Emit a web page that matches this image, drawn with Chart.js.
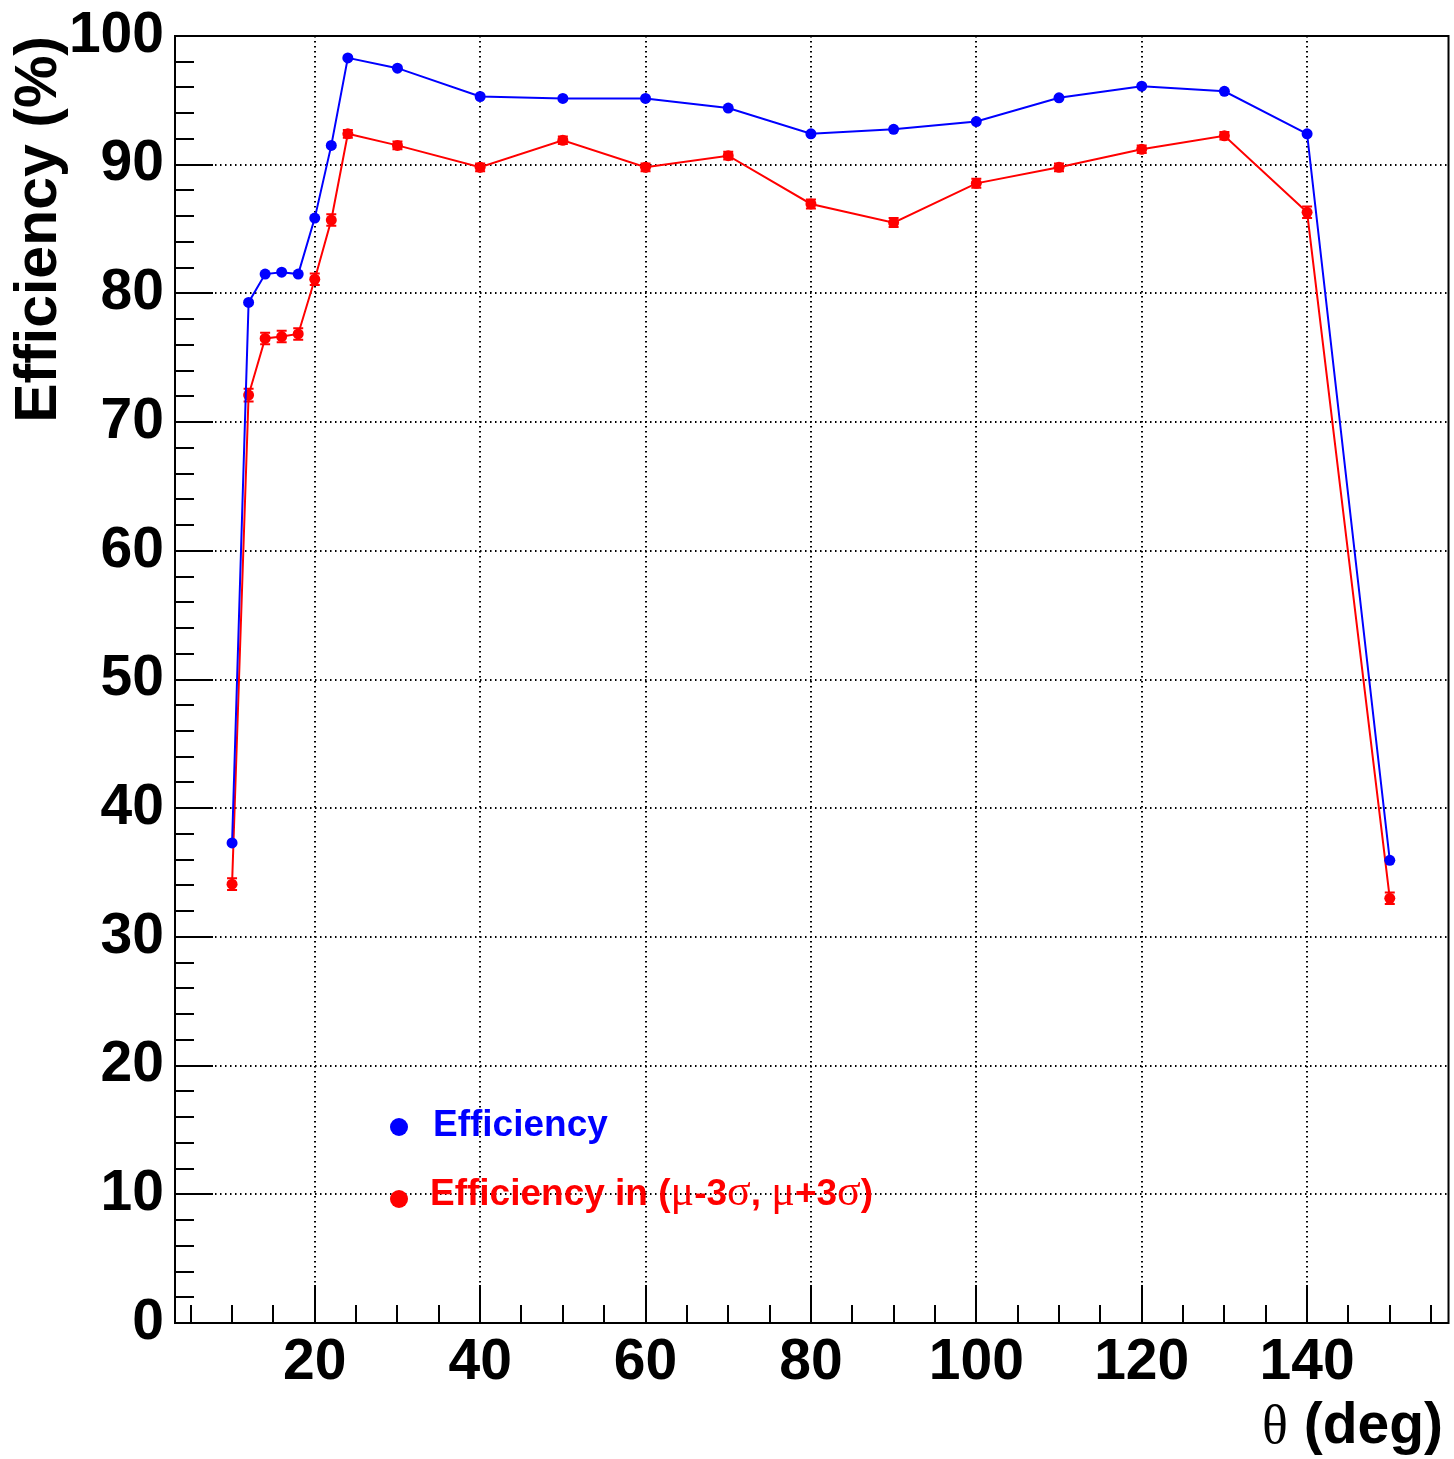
<!DOCTYPE html>
<html><head><meta charset="utf-8">
<script src="https://cdn.jsdelivr.net/npm/chart.js@4.4.0/dist/chart.umd.min.js"></script>
<style>html,body{margin:0;padding:0;background:#fff}canvas{display:block}</style>
</head><body>
<canvas id="c" width="1454" height="1459"></canvas>
<script>
// ---- data ----
const theta = [10, 12, 14, 16, 18, 20, 22, 24, 30, 40, 50, 60, 70, 80, 90, 100, 110, 120, 130, 140, 150];
const efficiency = [37.3, 79.3, 81.5, 81.65, 81.5, 85.85, 91.5, 98.3, 97.5, 95.3, 95.15, 95.15, 94.4, 92.4, 92.75, 93.35, 95.2, 96.1, 95.7, 92.4, 35.95];
const efficiencyErr = [0.3, 0.3, 0.25, 0.25, 0.25, 0.25, 0.2, 0.15, 0.15, 0.15, 0.15, 0.15, 0.15, 0.2, 0.2, 0.2, 0.15, 0.15, 0.15, 0.2, 0.3];
const efficiencyWindow = [34.1, 72.1, 76.5, 76.65, 76.85, 81.1, 85.7, 92.4, 91.5, 89.8, 91.9, 89.8, 90.7, 86.95, 85.5, 88.55, 89.8, 91.2, 92.25, 86.3, 33.0];
const efficiencyWindowErr = [0.45, 0.5, 0.45, 0.45, 0.45, 0.45, 0.45, 0.3, 0.3, 0.3, 0.3, 0.3, 0.3, 0.35, 0.35, 0.35, 0.3, 0.3, 0.3, 0.45, 0.45];
const seriesLabels = ['Efficiency', 'Efficiency in (\u03bc-3\u03c3, \u03bc+3\u03c3)'];
const seriesColors = ['#0000ff', '#ff0000'];
const xMajorTicks = [20, 40, 60, 80, 100, 120, 140];
const xMinorTicks = [5, 10, 15, 25, 30, 35, 45, 50, 55, 65, 70, 75, 85, 90, 95, 105, 110, 115, 125, 130, 135, 145, 150, 155];
const yMajorTicks = [0, 10, 20, 30, 40, 50, 60, 70, 80, 90, 100];
const xTitle = '\u03b8 (deg)';
const yTitle = 'Efficiency (%)';

const SANS = '"Liberation Sans", Arial, Helvetica, sans-serif';
const SERIF = '"Liberation Serif", "Times New Roman", serif';

function toPoints(xs, ys) { return xs.map((x, i) => ({x: x, y: ys[i]})); }

function drawMixed(ctx, text, x, y, size, color, align, greekScale) {
  const parts = [];
  for (const ch of text) {
    const greek = /[\u0370-\u03ff]/.test(ch);
    parts.push({ch: ch, font: greek ? ('normal ' + Math.round(size * greekScale) + 'px ' + SERIF) : ('bold ' + size + 'px ' + SANS)});
  }
  let total = 0;
  parts.forEach(p => { ctx.font = p.font; p.w = ctx.measureText(p.ch).width; total += p.w; });
  let cx = align === 'right' ? x - total : x;
  ctx.fillStyle = color;
  ctx.textBaseline = 'alphabetic';
  ctx.textAlign = 'left';
  parts.forEach(p => { ctx.font = p.font; ctx.fillText(p.ch, cx, y); cx += p.w; });
}

const errors = [efficiencyErr, efficiencyWindowErr];
const capWidth = [0, 5];

const rootPlugin = {
  id: 'rootStyle',
  beforeDraw(chart) {
    const ctx = chart.ctx;
    ctx.save();
    ctx.fillStyle = '#fff';
    ctx.fillRect(0, 0, chart.width, chart.height);
    ctx.restore();
  },
  beforeDatasetsDraw(chart) {
    const ctx = chart.ctx;
    const xs = chart.scales.x, ys = chart.scales.y;
    ctx.save();
    chart.data.datasets.forEach((ds, di) => {
      ctx.strokeStyle = seriesColors[di];
      ctx.lineWidth = 2;
      const cw = capWidth[di];
      ds.data.forEach((p, i) => {
        const e = errors[di][i];
        const px = xs.getPixelForValue(p.x);
        const y1 = ys.getPixelForValue(p.y - e), y2 = ys.getPixelForValue(p.y + e);
        ctx.beginPath();
        ctx.moveTo(px, y1); ctx.lineTo(px, y2);
        if (cw > 0) {
          ctx.moveTo(px - cw, y1); ctx.lineTo(px + cw, y1);
          ctx.moveTo(px - cw, y2); ctx.lineTo(px + cw, y2);
        }
        ctx.stroke();
      });
    });
    ctx.restore();
  },
  afterDraw(chart) {
    const ctx = chart.ctx;
    const a = chart.chartArea;
    const xs = chart.scales.x, ys = chart.scales.y;
    ctx.save();
    // ticks inside the frame
    ctx.strokeStyle = '#000';
    ctx.lineWidth = 2;
    ctx.beginPath();
    yMajorTicks.forEach(v => { const py = Math.round(ys.getPixelForValue(v)); ctx.moveTo(a.left, py); ctx.lineTo(a.left + 38, py); });
    for (let v = 0; v <= 100; v += 2) {
      if (v % 10 === 0) continue;
      const py = Math.round(ys.getPixelForValue(v));
      ctx.moveTo(a.left, py); ctx.lineTo(a.left + 19, py);
    }
    xMajorTicks.forEach(v => { const px = Math.round(xs.getPixelForValue(v)); ctx.moveTo(px, a.bottom); ctx.lineTo(px, a.bottom - 38); });
    xMinorTicks.forEach(v => { const px = Math.round(xs.getPixelForValue(v)); ctx.moveTo(px, a.bottom); ctx.lineTo(px, a.bottom - 18); });
    ctx.stroke();
    // frame
    ctx.lineWidth = 2;
    ctx.strokeRect(a.left, a.top, a.right - a.left, a.bottom - a.top);
    // x title
    drawMixed(ctx, xTitle, 1443, 1443, 57, '#000', 'right', 0.95);
    // legend
    const lx = a.left + (399 - 175);
    const ly = [1127, 1199];
    const tx = [433, 430];
    const tb = [1136, 1205];
    seriesLabels.forEach((lab, i) => {
      ctx.fillStyle = seriesColors[i];
      ctx.beginPath();
      ctx.arc(lx, ly[i], 9, 0, Math.PI * 2);
      ctx.fill();
      drawMixed(ctx, lab, tx[i], tb[i], 37, seriesColors[i], 'left', 1.2);
    });
    ctx.restore();
  }
};

const gridCommon = {
  display: true,
  drawTicks: false,
  color: '#000',
  lineWidth: 2,
};

new Chart(document.getElementById('c'), {
  type: 'line',
  data: {
    datasets: seriesLabels.map((lab, i) => ({
      label: lab,
      data: toPoints(theta, i === 0 ? efficiency : efficiencyWindow),
      borderColor: seriesColors[i],
      backgroundColor: seriesColors[i],
      borderWidth: 2,
      pointRadius: 5.5,
      pointBorderWidth: 0,
      pointHoverRadius: 5.5,
      tension: 0,
      fill: false,
    }))
  },
  options: {
    responsive: false,
    animation: false,
    devicePixelRatio: 1,
    layout: {padding: {left: 0, top: 36, right: 4, bottom: 0}},
    plugins: {legend: {display: false}, tooltip: {enabled: false}},
    scales: {
      x: {
        type: 'linear',
        min: 3.1, max: 157.1,
        afterBuildTicks(scale) { scale.ticks = xMajorTicks.map(v => ({value: v})); },
        afterFit(scale) { scale.height = 136; scale.paddingLeft = 0; scale.paddingRight = 0; },
        grid: Object.assign({}, gridCommon),
        border: {display: false, dash: [1.5, 3.5]},
        ticks: {
          autoSkip: false, maxRotation: 0, padding: 6, color: '#000',
          font: {family: SANS, weight: 'bold', size: 57},
        },
      },
      y: {
        type: 'linear',
        min: 0, max: 100,
        afterBuildTicks(scale) { scale.ticks = yMajorTicks.map(v => ({value: v})); },
        afterFit(scale) { scale.width = 175; scale.paddingTop = 0; scale.paddingBottom = 0; },
        grid: Object.assign({}, gridCommon),
        border: {display: false, dash: [1.5, 3.5]},
        ticks: {
          padding: 11, color: '#000',
          font: {family: SANS, weight: 'bold', size: 57},
        },
        title: {
          display: true, text: yTitle, align: 'end', color: '#000',
          font: {family: SANS, weight: 'bold', size: 59, lineHeight: 1},
          padding: {top: 10, bottom: 0},
        },
      },
    },
  },
  plugins: [rootPlugin],
});
</script>
</body></html>
